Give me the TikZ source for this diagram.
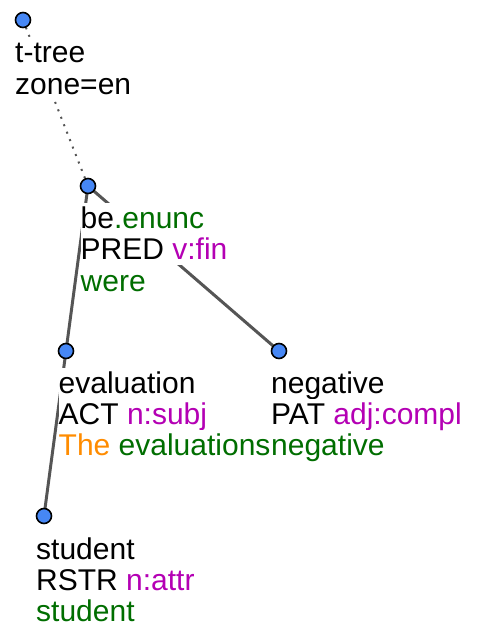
\documentclass[tikz,border=0pt]{standalone}
\usepackage{fontspec}
\setmainfont{Liberation Sans}
\definecolor{tgreen}{RGB}{0,110,0}
\definecolor{tmag}{RGB}{180,0,180}
\definecolor{torange}{RGB}{255,140,0}
\definecolor{tblue}{RGB}{70,135,245}
\definecolor{tedge}{RGB}{85,85,85}
\begin{document}
\begin{tikzpicture}[x=1pt,y=-1pt,
  tnode/.style={circle,draw=black,fill=tblue,line width=1.6pt,minimum size=15pt,inner sep=0},
  lbl/.style={anchor=base west,fill=white,inner sep=0,font=\fontsize{30}{31}\selectfont,text height=25pt,text depth=6pt},
  tedgeline/.style={draw=tedge,line width=3pt},
  rootedge/.style={draw=tedge,line width=2pt,dash pattern=on 2pt off 6pt}]
\useasboundingbox (0,0) rectangle (479,633);
% tree positions
\coordinate (root) at (23,20);
\coordinate (be) at (88,186);
\coordinate (eval) at (66,351);
\coordinate (neg) at (279,351);
\coordinate (stud) at (44,516);
% edges (drawn first, labels cover them)
\draw[rootedge] (root) -- (be);
\draw[tedgeline] (be) -- (eval);
\draw[tedgeline] (be) -- (neg);
\draw[tedgeline] (eval) -- (stud);
% labels
\node[lbl] (root1) at (15,62) {t-tree};
\node[lbl] (root2) at (15,94) {zone=en};
\node[lbl] (be1) at (80.5,228) {be\textcolor{tgreen}{.enunc}};
\node[lbl] (be2) at (80.5,259) {PRED \textcolor{tmag}{v:fin}};
\node[lbl,text=tgreen] (be3) at (80.5,291) {were};
\node[lbl] (ev1) at (58.5,393) {evaluation};
\node[lbl] (ev2) at (58.5,424) {ACT \textcolor{tmag}{n:subj}};
\node[lbl] (ev3) at (58.5,455) {\textcolor{torange}{The} \textcolor{tgreen}{evaluations}};
\node[lbl] (ng1) at (271,393) {negative};
\node[lbl] (ng2) at (271,424) {PAT \textcolor{tmag}{adj:compl}};
\node[lbl,text=tgreen] (ng3) at (271,455) {negative};
\node[lbl] (st1) at (36,559) {student};
\node[lbl] (st2) at (36,590) {RSTR \textcolor{tmag}{n:attr}};
\node[lbl,text=tgreen] (st3) at (36,621) {student};
% tree node dots
\node[tnode] (rootDot) at (root) {};
\node[tnode] (beDot) at (be) {};
\node[tnode] (evalDot) at (eval) {};
\node[tnode] (negDot) at (neg) {};
\node[tnode] (studDot) at (stud) {};
\end{tikzpicture}
\end{document}
